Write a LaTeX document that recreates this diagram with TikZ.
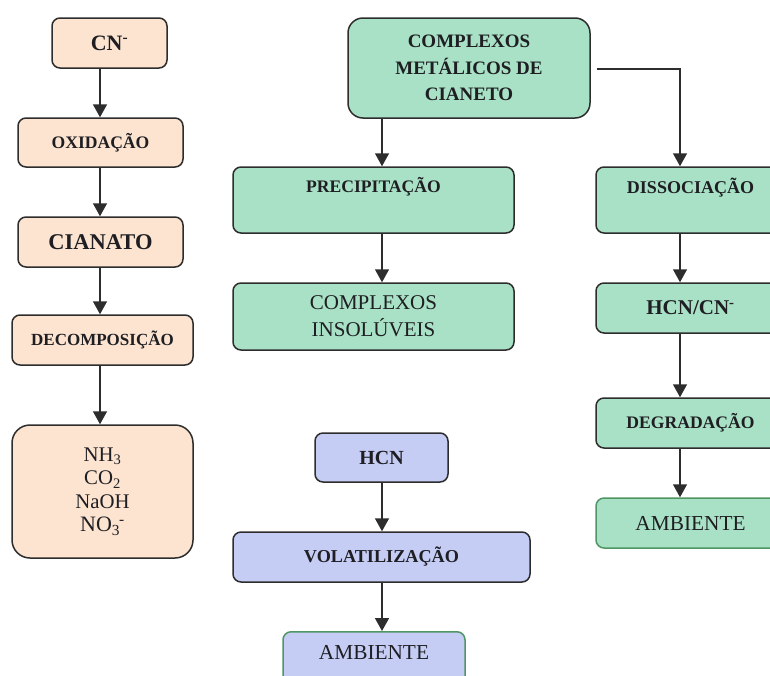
\documentclass[tikz,border=0pt]{standalone}
\usepackage{fontspec}
\setmainfont{Liberation Serif}
\usetikzlibrary{arrows.meta,calc}
\definecolor{peach}{RGB}{252,228,208}
\definecolor{mint}{RGB}{168,225,197}
\definecolor{lav}{RGB}{197,205,245}
\definecolor{edge}{RGB}{45,45,45}
\definecolor{gedge}{RGB}{80,150,100}
\definecolor{ink}{RGB}{30,30,35}
\newcommand{\fs}[1]{\fontsize{#1}{#1}\selectfont}
\begin{document}
\begin{tikzpicture}[x=1pt,y=-1pt,
  box/.style={draw=edge,line width=1.5pt,rounded corners=8pt,inner sep=0pt,align=center,text=ink},
  pbox/.style={box,fill=peach},
  gbox/.style={box,fill=mint},
  bbox/.style={box,fill=lav},
  arr/.style={draw=edge,line width=1.5pt,-{Triangle[width=14pt,length=13pt]}},
  bl/.style={font=\fs{17.6}\bfseries},
  rl/.style={font=\fs{21.3}}]
\useasboundingbox (0,0) rectangle (770,675);
\clip (0,0) rectangle (770,675);
% left column
\node[pbox,minimum width=115pt,minimum height=50pt,font=\fs{22}\bfseries] (cn) at (109.5,43) {CN\textsuperscript{-}};
\node[pbox,bl,minimum width=165pt,minimum height=49pt] (oxi) at (100.5,142.5) {OXIDAÇÃO};
\node[pbox,minimum width=165pt,minimum height=50pt,font=\fs{22.5}\bfseries] (cia) at (100.5,242) {CIANATO};
\node[pbox,minimum width=181pt,minimum height=50pt,font=\fs{17}\bfseries] (dec) at (102.5,340) {DECOMPOSIÇÃO};
\node[pbox,rounded corners=18pt,minimum width=181pt,minimum height=133pt,font=\fs{20.8},
  execute at begin node={\baselineskip=23.5pt}] (prod) at (102.5,491.5)
  {NH\textsubscript{3}\\CO\textsubscript{2}\\NaOH\\{\fs{22}NO\textsubscript{3}\kern-1pt\textsuperscript{-}}};
\coordinate (lx) at (100,0);
\draw[arr] (cn.south -| lx) -- (oxi.north -| lx);
\draw[arr] (oxi.south -| lx) -- (cia.north -| lx);
\draw[arr] (cia.south -| lx) -- (dec.north -| lx);
\draw[arr] (dec.south -| lx) -- (prod.north -| lx);
% middle column
\node[gbox,rounded corners=15pt,minimum width=242pt,minimum height=100pt,font=\fs{19}\bfseries,
  execute at begin node={\baselineskip=26.5pt}] (top) at (469,68) {COMPLEXOS\\METÁLICOS DE\\CIANETO};
\node[gbox,bl,minimum width=281pt,minimum height=66pt,execute at begin node={\baselineskip=24pt}] (prec) at (373.5,200) {PRECIPITAÇÃO\\\strut};
\node[gbox,minimum width=281pt,minimum height=67pt,font=\fs{21},execute at begin node={\baselineskip=27pt}] (insol) at (373.5,316.5) {COMPLEXOS\\INSOLÚVEIS};
\coordinate (mx) at (382,0);
\draw[arr] (top.south -| mx) -- (prec.north -| mx);
\draw[arr] (prec.south -| mx) -- (insol.north -| mx);
% right column
\node[gbox,font=\fs{18}\bfseries,minimum width=189pt,minimum height=66pt,execute at begin node={\baselineskip=24pt}] (diss) at (690.5,200) {DISSOCIAÇÃO\\\strut};
\node[gbox,minimum width=189pt,minimum height=50pt,font=\fs{21}\bfseries] (hcncn) at (690.5,308) {HCN/CN\textsuperscript{-}};
\node[gbox,bl,minimum width=189pt,minimum height=50pt] (deg) at (690.5,423) {DEGRADAÇÃO};
\node[gbox,rl,draw=gedge,minimum width=189pt,minimum height=50pt] (amb1) at (690.5,523) {AMBIENTE};
\coordinate (rx) at (680,0);
\coordinate (bend) at (680,69);
\draw[arr] ([xshift=6pt]top.east |- bend) -- (bend) -- (diss.north -| rx);
\draw[arr] (diss.south -| rx) -- (hcncn.north -| rx);
\draw[arr] (hcncn.south -| rx) -- (deg.north -| rx);
\draw[arr] (deg.south -| rx) -- (amb1.north -| rx);
% blue column
\node[bbox,minimum width=133pt,minimum height=49pt,font=\fs{20}\bfseries] (hcn) at (381.5,457.5) {HCN};
\node[bbox,minimum width=297pt,minimum height=50pt,font=\fs{18.2}\bfseries] (vol) at (381.5,557) {VOLATILIZAÇÃO};
\node[bbox,rl,draw=gedge,anchor=north,minimum width=182pt,inner ysep=14pt,text depth=30pt] (amb2) at (374,631) {AMBIENTE};
\draw[arr] (hcn.south -| mx) -- (vol.north -| mx);
\draw[arr] (vol.south -| mx) -- (amb2.north -| mx);
\end{tikzpicture}
\end{document}
